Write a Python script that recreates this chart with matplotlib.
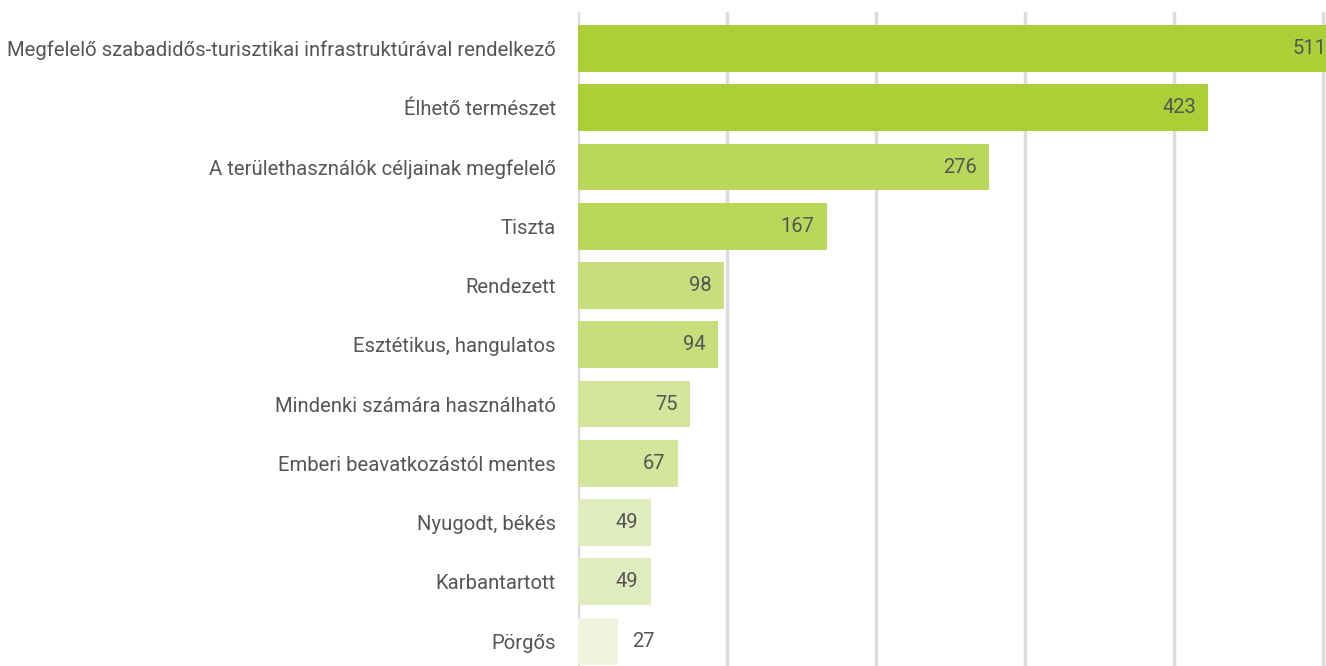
import matplotlib
matplotlib.use("Agg")
import matplotlib.pyplot as plt

categories = [
    "Megfelelő szabadidős-turisztikai infrastruktúrával rendelkező",
    "Élhető természet",
    "A területhasználók céljainak megfelelő",
    "Tiszta",
    "Rendezett",
    "Esztétikus, hangulatos",
    "Mindenki számára használható",
    "Emberi beavatkozástól mentes",
    "Nyugodt, békés",
    "Karbantartott",
    "Pörgős",
]
values = [511, 423, 276, 167, 98, 94, 75, 67, 49, 49, 27]
colors = ["#abcf37", "#abcf37", "#b9d75a", "#b9d75a", "#c8dd7b", "#c8dd7b",
          "#d5e59b", "#d5e59b", "#e1ecbe", "#e1ecbe", "#eef5dc"]
ticks = [0, 100, 200, 300, 400, 500]

plt.rcParams['font.family'] = ['Roboto', 'DejaVu Sans']
text_color = "#555555"

fig = plt.figure(figsize=(13.26, 6.66), dpi=100)
ax = fig.add_axes([578/1326, 0.0, 1 - 578/1326, 1 - 12/666])

y = list(range(len(categories)))
ax.barh(y, values, height=0.79, color=colors, zorder=2)
ax.set_xlim(0, 502)
ax.set_ylim(10.42, -0.616)
ax.set_xticks(ticks)
ax.xaxis.grid(True, color="#dcdcdc", linewidth=2.5, zorder=0)
ax.set_axisbelow(True)
ax.tick_params(axis='x', length=0, labelbottom=False)
ax.tick_params(axis='y', length=0, pad=16, labelsize=14.6, labelcolor=text_color)
ax.set_yticks(y)
ax.set_yticklabels(categories)
for s in ax.spines.values():
    s.set_visible(False)

for yi, v in zip(y, values):
    if v > 40:
        ax.annotate(str(v), (v, yi), xytext=(-9, 0), textcoords="offset points",
                    ha="right", va="center", fontsize=14.5, color=text_color,
                    annotation_clip=False)
    else:
        ax.annotate(str(v), (v, yi), xytext=(10, 0), textcoords="offset points",
                    ha="left", va="center", fontsize=14.5, color=text_color)

fig.savefig("out.png", dpi=100)
